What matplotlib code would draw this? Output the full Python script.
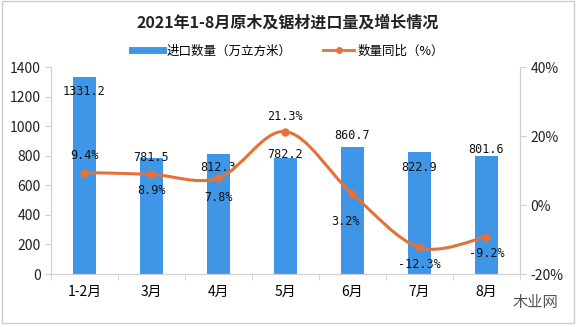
import numpy as np
import matplotlib
matplotlib.use("Agg")
import matplotlib.pyplot as plt
from matplotlib.path import Path
from matplotlib.patches import PathPatch, Rectangle
from matplotlib.lines import Line2D

plt.rcParams['font.family'] = ['Noto Sans CJK SC', 'DejaVu Sans']

# data
months = ["1-2月", "3月", "4月", "5月", "6月", "7月", "8月"]
volume = [1331.2, 781.5, 812.3, 782.2, 860.7, 822.9, 801.6]   # 万立方米
yoy = [9.4, 8.9, 7.8, 21.3, 3.2, -12.3, -9.2]                 # %

# label offsets in points (dx, dy) relative to bar top / line point
vol_off = [(0, -10), (0, 1), (0, -10), (0, 3), (0, 8), (0, -11), (0, 4)]
yoy_off = [(0, 12), (0, -12), (0, -14), (0, 11), (-5, -20), (0, -12), (0, -12)]

bar_color = "#3F96E6"
line_color = "#E4713A"
grey = "#D0D0D0"

fig = plt.figure(figsize=(5.76, 3.27), dpi=100)
ax = fig.add_axes([0.0885, 0.162, 0.814, 0.633])
ax2 = ax.twinx()

x = np.arange(len(months))
ax.bar(x, volume, width=0.34, color=bar_color, zorder=2)
ax.set_ylim(0, 1400)
ax.set_yticks(range(0, 1401, 200))
ax.set_xlim(-0.5, len(months) - 0.5)
ax.set_xticks(x)
ax.set_xticklabels(months)
ax.set_xticks(np.arange(-0.5, len(months)), minor=True)
ax.tick_params(axis='x', which='major', length=0, pad=8, labelsize=10)
ax.tick_params(axis='x', which='minor', length=4, color=grey, direction='out')
ax.tick_params(axis='y', length=4, color=grey, labelsize=10, labelcolor="#222222")

for s in ['top']:
    ax.spines[s].set_visible(False)
    ax2.spines[s].set_visible(False)
for a in (ax, ax2):
    for s in ['left', 'right', 'bottom']:
        a.spines[s].set_color(grey)
        a.spines[s].set_linewidth(0.8)

# smoothed line (Catmull-Rom -> cubic bezier)
pts = np.column_stack([x, yoy]).astype(float)
verts = [tuple(pts[0])]
codes = [Path.MOVETO]
n = len(pts)
for i in range(n - 1):
    p0 = pts[i - 1] if i > 0 else pts[i]
    p1 = pts[i]
    p2 = pts[i + 1]
    p3 = pts[i + 2] if i + 2 < n else pts[i + 1]
    c1 = p1 + (p2 - p0) / 6
    c2 = p2 - (p3 - p1) / 6
    verts += [tuple(c1), tuple(c2), tuple(p2)]
    codes += [Path.CURVE4] * 3
ax2.add_patch(PathPatch(Path(verts, codes), fill=False, edgecolor=line_color,
                        lw=2.2, zorder=3))
ax2.plot(x, yoy, 'o', color=line_color, ms=5, zorder=4)
ax2.set_ylim(-20, 40)
ax2.set_yticks([-20, 0, 20, 40])
ax2.set_yticklabels(["-20%", "0%", "20%", "40%"])
ax2.tick_params(axis='y', length=4, color=grey, labelsize=10, labelcolor="#222222")

ax.set_zorder(1)
ax2.set_zorder(2)
ax2.patch.set_visible(False)

for xi, v, (dx, dy) in zip(x, volume, vol_off):
    ax.annotate(f"{v:.1f}", (xi, v), xytext=(dx, dy), textcoords='offset points',
                ha='center', va='center', fontsize=8.5, color="#111111",
                family='DejaVu Sans Mono')
for xi, v, (dx, dy) in zip(x, yoy, yoy_off):
    ax2.annotate(f"{v:.1f}%", (xi, v), xytext=(dx, dy), textcoords='offset points',
                 ha='center', va='center', fontsize=8.5, color="#111111",
                 family='DejaVu Sans Mono', zorder=5)

fig.text(0.5, 0.932, "2021年1-8月原木及锯材进口量及增长情况", ha='center', va='center',
         fontsize=11.5, fontweight='bold', color="#222222")

handles = [Line2D([], [], color=bar_color, lw=5),
           Line2D([], [], color=line_color, lw=2, marker='o', ms=4)]
fig.legend(handles, ["进口数量（万立方米）", "数量同比（%）"], loc='center',
           bbox_to_anchor=(0.5, 0.843), ncol=2, frameon=False, fontsize=9,
           handlelength=2.5, columnspacing=2.5, handletextpad=0.3)

fig.text(0.93, 0.075, "木业网", ha='center', va='center', fontsize=11, color="#555555")

fig.patches.append(Rectangle((0.003, 0.012), 0.994, 0.985, transform=fig.transFigure,
                             fill=False, edgecolor="#CCCCCC", lw=1))

fig.savefig("out.png", dpi=100)
